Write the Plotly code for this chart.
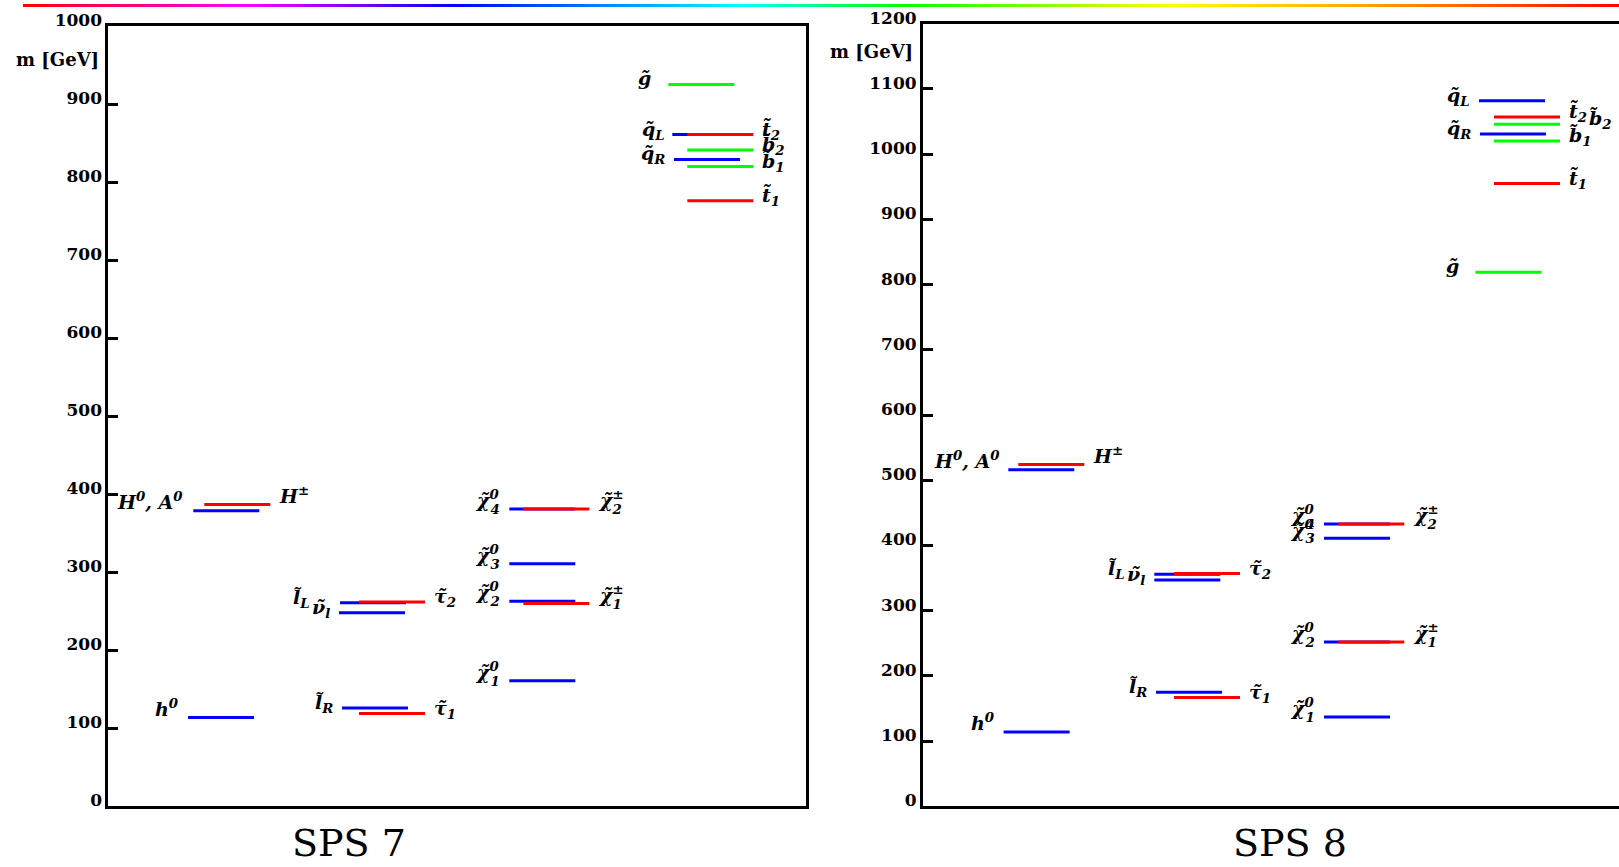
import plotly.graph_objects as go

W, H = 1619, 867

# ---------------- data ----------------
PARTICLES = ["h0", "H0A0", "Hpm", "lL", "nul", "tau2", "lR", "tau1",
             "chi1", "chi2", "chi3", "chi4", "chipm1", "chipm2",
             "gluino", "qL", "t2", "b2", "qR", "b1", "t1"]
SPS7_MASS = [114, 379, 387, 261, 248, 262, 126, 119,
             161, 263, 311, 381, 260, 381,
             925, 861, 861, 841, 829, 820, 776]
SPS8_MASS = [114, 516, 524, 356, 347, 357, 175, 167,
             137, 252, 411, 433, 252, 433,
             819, 1082, 1057, 1046, 1031, 1020, 955]
SPS7_TICKS = list(range(0, 1001, 100))
SPS8_TICKS = list(range(0, 1201, 100))
TITLES = ["SPS 7", "SPS 8"]

# ---------------- presentation ----------------
BLUE, RED, GREEN = "#0000ff", "#ff0000", "#00ff00"
COLOR = {"h0": BLUE, "H0A0": BLUE, "Hpm": RED, "lL": BLUE, "nul": BLUE, "tau2": RED,
         "lR": BLUE, "tau1": RED, "chi1": BLUE, "chi2": BLUE, "chi3": BLUE, "chi4": BLUE,
         "chipm1": RED, "chipm2": RED, "gluino": GREEN, "qL": BLUE, "t2": RED,
         "b2": GREEN, "qR": BLUE, "b1": GREEN, "t1": RED}
# (base text, superscript, subscript, side)
LABEL = {"h0": ("h", "0", None, "L"), "H0A0": ("H<sup>0</sup>, A", "0", None, "L"),
         "Hpm": ("H", "±", None, "R"), "lL": ("l̃", None, "L", "L"),
         "nul": ("ν̃", None, "l", "L"), "tau2": ("τ̃", None, "2", "R"),
         "lR": ("l̃", None, "R", "L"), "tau1": ("τ̃", None, "1", "R"),
         "chi1": ("χ̃", "0", "1", "L"), "chi2": ("χ̃", "0", "2", "L"),
         "chi3": ("χ̃", "0", "3", "L"), "chi4": ("χ̃", "0", "4", "L"),
         "chipm1": ("χ̃", "±", "1", "R"), "chipm2": ("χ̃", "±", "2", "R"),
         "gluino": ("g̃", None, None, "L"), "qL": ("q̃", None, "L", "L"),
         "t2": ("t̃", None, "2", "R"), "b2": ("b̃", None, "2", "R"),
         "qR": ("q̃", None, "R", "L"), "b1": ("b̃", None, "1", "R"),
         "t1": ("t̃", None, "1", "R")}
# left start of each level inside its panel (pixels from panel's left border)
PLACE7 = {"h0": 79.6, "H0A0": 84.9, "Hpm": 95.9, "lL": 231.6, "nul": 230.6, "tau2": 250.6,
          "lR": 233.6, "tau1": 250.6, "chi1": 400.9, "chi2": 400.9, "chi3": 400.9,
          "chi4": 400.9, "chipm1": 414.9, "chipm2": 414.9, "gluino": 559.9, "qL": 563.9,
          "t2": 578.9, "b2": 578.9, "qR": 565.6, "b1": 578.9, "t1": 578.9}
PLACE8 = {"h0": 80.6, "H0A0": 85.3, "Hpm": 95.3, "lL": 231.3, "nul": 231.3, "tau2": 251,
          "lR": 233, "tau1": 251, "chi1": 401, "chi2": 401, "chi3": 401, "chi4": 401,
          "chipm1": 415.3, "chipm2": 415.3, "gluino": 552.4, "qL": 556, "t2": 571,
          "b2": 571, "qR": 557, "b1": 571, "t1": 571}
GAP7 = {"lL": 28, "gluino": 15, "qL": 5, "H0A0": 8}
GAP8 = {"lL": 27, "gluino": 14, "b2": 27, "H0A0": 6}
SEG = 66

PANELS = [
    dict(mass=SPS7_MASS, ticks=SPS7_TICKS, place=PLACE7, gap=GAP7,
         x0=108.4, x1=806.4, ytop=26.0, ybot=806.4, xa="x", ya="y", mirror_y=True,
         title_x=349, mlab=(101, 60)),
    dict(mass=SPS8_MASS, ticks=SPS8_TICKS, place=PLACE8, gap=GAP8,
         x0=923.0, x1=1619.0, ytop=23.7, ybot=806.4, xa="x2", ya="y2", mirror_y=False,
         title_x=1290, mlab=(915, 51.6)),
]

FS = 19
LFONT = dict(family="DejaVu Serif", size=FS, color="black", weight="bold", style="italic")

fig = go.Figure()
annotations = []

draw_order = [BLUE, RED, GREEN]
for pi, P in enumerate(PANELS):
    for col in draw_order:
        for name, m in zip(PARTICLES, P["mass"]):
            if COLOR[name] != col:
                continue
            xs = P["place"][name]
            fig.add_trace(go.Scatter(x=[xs, xs + SEG], y=[m, m], mode="lines",
                                     line=dict(color=col, width=3),
                                     xaxis=P["xa"], yaxis=P["ya"],
                                     hoverinfo="skip", showlegend=False))
    for name, m in zip(PARTICLES, P["mass"]):
        base, sup, sub, side = LABEL[name]
        xs = P["place"][name]
        gap = P["gap"].get(name, 7)
        if side == "L":
            ax, anchor, sh = xs, "right", -gap
        else:
            ax, anchor, sh = xs + SEG, "left", gap
        main = base + (f"<sup>{sup}</sup>" if sup else "")
        if sub and not sup:
            main = base + f"<sub>{sub}</sub>"
        ys = 0.35 * FS + (0.16 * FS if sup else 0) - (0.115 * FS if (sub and not sup) else 0)
        annotations.append(dict(x=ax, y=m, xref=P["xa"], yref=P["ya"], text=main,
                                showarrow=False, xanchor=anchor, yanchor="middle",
                                xshift=sh, yshift=ys, font=LFONT))
        if sub and sup:
            ghost = f"<span style='color:rgba(0,0,0,0)'>{base}</span><sub>{sub}</sub>"
            annotations.append(dict(x=ax, y=m, xref=P["xa"], yref=P["ya"], text=ghost,
                                    showarrow=False, xanchor=anchor, yanchor="middle",
                                    xshift=sh, yshift=0.35 * FS - 0.115 * FS, font=LFONT))
    # panel title
    annotations.append(dict(x=P["title_x"] / W, y=0, xref="paper", yref="paper",
                            text=TITLES[pi], showarrow=False, xanchor="center", yanchor="bottom",
                            font=dict(family="DejaVu Serif", size=38, color="black")))
    annotations.append(dict(x=P["mlab"][0] / W, y=(H - P["mlab"][1]) / H, xref="paper", yref="paper",
                            text="m [GeV]", showarrow=False, xanchor="right", yanchor="middle",
                            font=dict(family="DejaVu Serif", size=18, color="black", weight="bold")))

# rainbow strip at the top
RAINBOW = [[0.0, "#ff0000"], [0.14, "#ff00ff"], [0.27, "#0000ff"], [0.45, "#00ffff"],
           [0.55, "#00ff00"], [0.72, "#ffff00"], [0.84, "#ffa500"], [1.0, "#ff0000"]]
fig.add_trace(go.Heatmap(z=[[0, 1], [0, 1]], x=[0, 1], y=[0, 1], colorscale=RAINBOW,
                         zsmooth="best", showscale=False, hoverinfo="skip",
                         xaxis="x3", yaxis="y3"))

def xax(P):
    return dict(domain=[P["x0"] / W, min(P["x1"] / W, 1.0)], range=[0, min(P["x1"], W) - P["x0"]],
                showline=True, mirror=True, linewidth=3, linecolor="black", automargin=False,
                showticklabels=False, ticks="", showgrid=False, zeroline=False, fixedrange=True)

def yax(P):
    return dict(domain=[(H - P["ybot"]) / H, (H - P["ytop"]) / H], range=[0, P["ticks"][-1]],
                showline=True, mirror=P["mirror_y"], linewidth=3, linecolor="black",
                automargin=False,
                tickvals=P["ticks"], ticktext=[str(t) for t in P["ticks"]],
                ticks="inside", ticklen=10, tickwidth=3, tickcolor="black",
                ticklabelshift=-6, ticklabelstandoff=0,
                tickfont=dict(family="DejaVu Serif", size=17, color="black", weight="bold"),
                showgrid=False, zeroline=False, fixedrange=True)

fig.update_layout(
    template="none",
    width=W, height=H, margin=dict(l=0, r=0, t=0, b=0, pad=0, autoexpand=False),
    paper_bgcolor="white", plot_bgcolor="white",
    xaxis=xax(PANELS[0]), yaxis=yax(PANELS[0]),
    xaxis2=dict(xax(PANELS[1]), anchor="y2"), yaxis2=dict(yax(PANELS[1]), anchor="x2"),
    xaxis3=dict(domain=[23 / W, 1.0], range=[0, 1], visible=False, fixedrange=True,
                anchor="y3", automargin=False),
    yaxis3=dict(domain=[(H - 7) / H, (H - 4) / H], range=[0, 1], visible=False,
                fixedrange=True, anchor="x3", automargin=False),
    annotations=annotations,
    showlegend=False,
)

fig.write_html(
    "out.html",
    config={"displayModeBar": False, "staticPlot": True},
    post_script=(
        "document.documentElement.style.margin='0';"
        "document.body.style.margin='0';"
        "document.documentElement.style.overflow='hidden';"
        "document.body.style.overflow='hidden';"
    ),
)
